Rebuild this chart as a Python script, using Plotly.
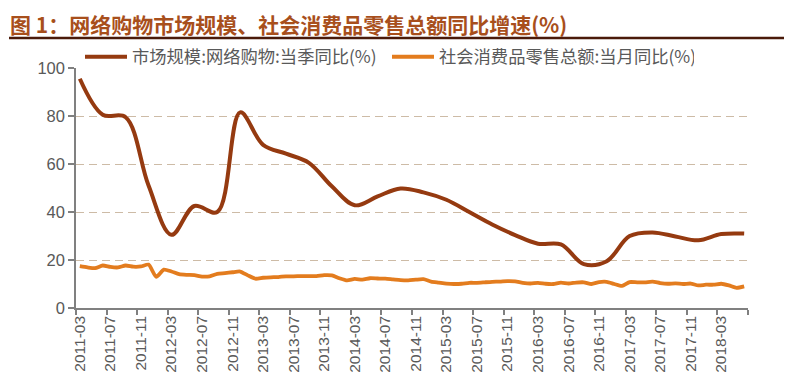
import plotly.graph_objects as go

# ---- data ----
months = [f"{y}-{m:02d}" for y in range(2011, 2019) for m in range(1, 13)]
months = months[months.index("2011-03"):months.index("2018-06") + 1]

# 社会消费品零售总额:当月同比(%) — monthly
retail = [
    17.4, 16.9, 16.6, 17.7, 17.1, 16.9, 17.7, 17.2, 17.3, 18.1,   # 2011-03..2011-12
    13.0, 16.0, 15.2, 14.1, 13.8, 13.7, 13.1, 13.2, 14.2, 14.5, 14.9, 15.2,  # 2012
    13.6, 12.2, 12.6, 12.8, 12.9, 13.2, 13.2, 13.3, 13.3, 13.3, 13.7, 13.6,  # 2013
    12.4, 11.5, 12.1, 11.8, 12.4, 12.3, 12.2, 11.9, 11.6, 11.5, 11.8, 12.0,  # 2014
    11.0, 10.6, 10.2, 10.0, 10.1, 10.5, 10.5, 10.7, 10.9, 11.0, 11.2, 11.1,  # 2015
    10.5, 10.2, 10.5, 10.1, 10.0, 10.6, 10.2, 10.6, 10.7, 10.0, 10.8, 10.9,  # 2016
    10.0, 9.2, 10.8, 10.7, 10.7, 11.0, 10.4, 10.1, 10.3, 10.0, 10.2, 9.4,    # 2017
    9.7, 9.7, 10.1, 9.4, 8.4, 9.0,                                           # 2018-01..06
]

# 市场规模:网络购物:当季同比(%) — quarterly (Mar, Jun, Sep, Dec)
online_months = months[::3]
online = [
    95.5, 80.5, 79.5, 51.0,
    30.5, 42.5, 40.0, 81.5,
    68.0, 64.3, 60.5, 50.7,
    42.8, 46.5, 49.8, 48.2,
    45.1, 40.0, 34.8, 30.4,
    26.8, 26.5, 18.3, 19.5,
    30.0, 31.5, 29.8, 28.2,
    30.8, 31.0,
]

tick_labels = months[::4]

x_retail = [months.index(m) for m in months]
x_online = [months.index(m) for m in online_months]
tick_pos = [months.index(m) for m in tick_labels]
bound_pos = [p - 0.5 for p in tick_pos] + [len(months) - 0.5]

font_fam = "Liberation Sans, Noto Sans CJK SC, sans-serif"
grey = "#595959"

# figure is offset by the page's 8px body margin
W, H = 788, 375
L, R, T, B = 68, 48, 60, 75
PW, PH = W - L - R, H - T - B


def px_x(p):
    return (p - L) / PW


def px_y(p):
    return 1 + (T - p) / PH


fig = go.Figure()
fig.add_trace(go.Scatter(
    x=x_online, y=online, mode="lines", name="市场规模:网络购物:当季同比(%)",
    line=dict(color="#953A10", width=4, shape="spline", smoothing=1.0),
))
fig.add_trace(go.Scatter(
    x=x_retail, y=retail, mode="lines", name="社会消费品零售总额:当月同比(%)",
    line=dict(color="#E37C1E", width=3.8, shape="spline", smoothing=0.6),
))

fig.update_layout(
    width=W, height=H,
    margin=dict(l=L, r=R, t=T, b=B, autoexpand=False),
    paper_bgcolor="white", plot_bgcolor="white",
    font=dict(family=font_fam, size=16, color=grey),
    showlegend=True,
    legend=dict(
        orientation="h", x=px_x(72), xanchor="left", y=px_y(49), yanchor="middle",
        font=dict(family="Noto Sans CJK SC, sans-serif", size=17.3, color=grey),
        itemwidth=42, entrywidth=250, entrywidthmode="pixels",
        bgcolor="rgba(0,0,0,0)", tracegroupgap=0,
    ),
    xaxis=dict(
        range=[-0.5, len(months) - 0.5],
        tickmode="array", tickvals=tick_pos, ticktext=tick_labels,
        tickangle=-90, ticks="", showgrid=False, zeroline=False,
        showline=True, linecolor="#808080", linewidth=1.5,
        tickfont=dict(size=15.5, color=grey), automargin=False,
        minor=dict(tickmode="array", tickvals=bound_pos, ticks="outside",
                   ticklen=5, tickcolor="#808080", tickwidth=1.5, showgrid=False),
    ),
    yaxis=dict(
        range=[0, 100], tickmode="linear", tick0=0, dtick=20,
        ticks="outside", ticklen=6, tickcolor="#808080", tickwidth=1.5,
        showline=True, linecolor="#808080", linewidth=1.5,
        showgrid=True, gridcolor="#CDBBA6", griddash="8px,5px", gridwidth=1,
        zeroline=False, tickfont=dict(size=16.5, color=grey), automargin=False,
    ),
    annotations=[dict(
        text="<b>图 1：网络购物市场规模、社会消费品零售总额同比增速(%)</b>",
        xref="paper", yref="paper", x=px_x(0.5), y=px_y(0.5),
        xanchor="left", yanchor="top", showarrow=False, borderpad=0,
        font=dict(family="Noto Sans CJK SC, sans-serif", size=21, color="#A84F1C"),
    )],
    shapes=[dict(
        type="line", xref="paper", yref="paper",
        x0=px_x(1), x1=px_x(776), y0=px_y(30), y1=px_y(30),
        line=dict(color="#4A1A0A", width=2.5),
    )],
)

fig.write_html("out.html")
